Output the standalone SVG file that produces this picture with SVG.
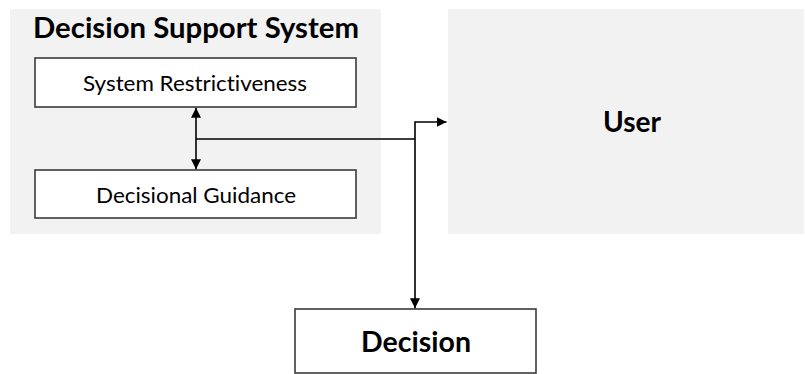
<svg xmlns="http://www.w3.org/2000/svg" width="805" height="374" viewBox="0 0 805 374">
<defs>
<style>
.panel{fill:#f2f2f2;stroke:none}
.box{fill:#ffffff;stroke:#3a3a3a;stroke-width:1.6}
.t{font-family:Lato,"Open Sans","Liberation Sans",sans-serif;fill:#000;text-anchor:middle;font-variant-ligatures:none;font-feature-settings:"liga" 0,"dlig" 0}
.big{font-size:29px;font-weight:bold}
.small{font-size:21px}
.line{fill:none;stroke:#000;stroke-width:1.6}
</style>
<marker id="ah" viewBox="0 0 10 10" refX="10" refY="5" markerWidth="10" markerHeight="10" markerUnits="userSpaceOnUse" orient="auto-start-reverse">
<path d="M0,0 L10,5 L0,10 Z" fill="#000"/>
</marker>
</defs>
<g id="dss">
<rect class="panel" x="10" y="9" width="371" height="225"/>
<text class="t big" x="196" y="38" textLength="326" lengthAdjust="spacingAndGlyphs">Decision Support System</text>
</g>
<g id="restrictiveness">
<rect class="box" x="35" y="58" width="321" height="49"/>
<text class="t small" x="195" y="91" textLength="224" lengthAdjust="spacingAndGlyphs">System Restrictiveness</text>
</g>
<g id="guidance">
<rect class="box" x="35" y="170" width="321" height="48"/>
<text class="t small" x="196" y="203" textLength="200" lengthAdjust="spacingAndGlyphs">Decisional Guidance</text>
</g>
<g id="user">
<rect class="panel" x="448" y="9" width="356" height="225"/>
<text class="t big" x="632" y="132" textLength="58" lengthAdjust="spacingAndGlyphs">User</text>
</g>
<g id="decision">
<rect class="box" x="295" y="309" width="241" height="64"/>
<text class="t big" x="416" y="352" textLength="110" lengthAdjust="spacingAndGlyphs">Decision</text>
</g>
<g id="connectors">
<line class="line" x1="196" y1="107.8" x2="196" y2="169.2" marker-start="url(#ah)" marker-end="url(#ah)"/>
<line class="line" x1="196" y1="139" x2="415" y2="139"/>
<polyline class="line" points="446.5,122 415,122 415,308.2" marker-start="url(#ah)" marker-end="url(#ah)"/>
</g>
</svg>
